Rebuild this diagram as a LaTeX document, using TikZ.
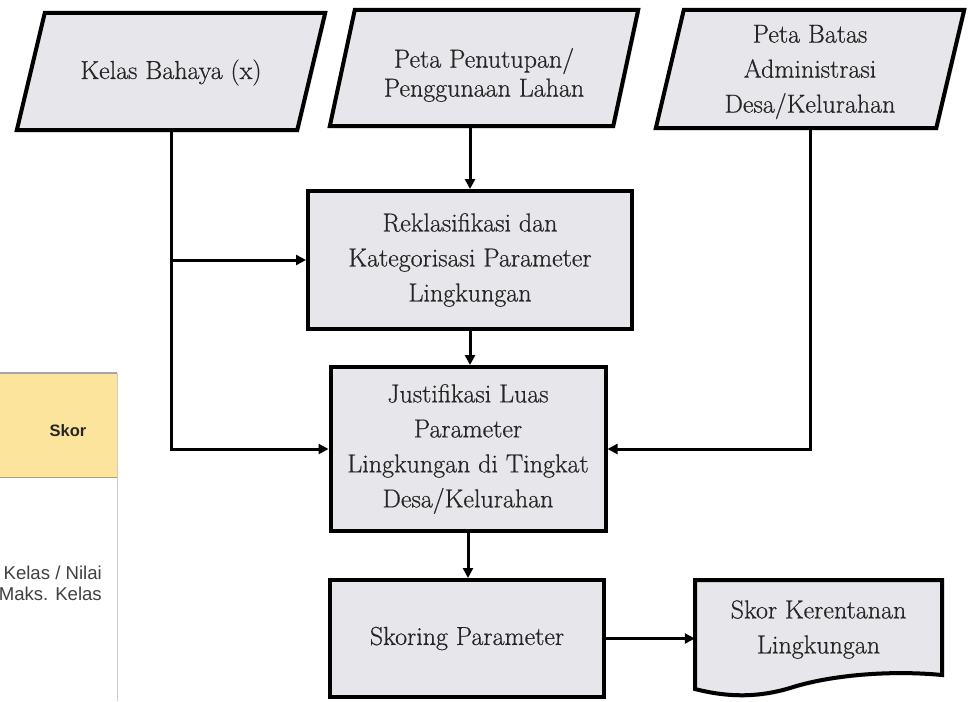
\documentclass[tikz,border=0pt]{standalone}
\usepackage{fontspec}
\newfontfamily\arialf{Liberation Sans}
\newfontfamily\boxf{Latin Modern Roman}[RawFeature={embolden=0.6}]
\usetikzlibrary{arrows.meta,calc,shadows}
\definecolor{boxfill}{HTML}{E7E7EB}
\definecolor{txt}{HTML}{262626}
\definecolor{hdr}{HTML}{FDE49C}
\begin{document}
\begin{tikzpicture}[x=1pt,y=-1pt,
  lbl/.style={inner sep=0pt, align=center, text=txt, font=\boxf\fontsize{26}{35}\selectfont},
  boxnode/.style={lbl, draw=black, line width=4pt, fill=boxfill,
     drop shadow={shadow xshift=2pt, shadow yshift=-2pt, opacity=0.3, fill=gray}},
  shapeline/.style={draw=black, line width=4pt, fill=boxfill, line join=miter,
     drop shadow={shadow xshift=2pt, shadow yshift=-2pt, opacity=0.3, fill=gray}},
  conn/.style={line width=3pt, -{Triangle[length=10pt,width=10pt]}},
  plain/.style={line width=3pt}]
\useasboundingbox (0,0) rectangle (968,701);

% partial table at left
\fill[hdr] (0,373) rectangle (117,477);
\draw[line width=1.5pt, draw=gray!70] (0,373) -- (117,373);
\draw[line width=1pt, draw=hdr!70!black] (0,477) -- (117,477);
\draw[line width=1pt, draw=gray!40] (117,373) -- (117,701);
\node[inner sep=0pt, font=\arialf\bfseries\fontsize{16.5}{19}\selectfont, text=black!85] (skorh) at (68,431) {Skor};
\node[inner sep=0pt, anchor=east, align=right, text=black!75, font=\arialf\fontsize{18.6}{21}\selectfont] (skorb) at (102,583) {Kelas / Nilai\\Maks. Kelas};

% parallelogram input nodes
\node[lbl, minimum width=280pt, minimum height=117pt] (kb) at (171,71.5) {};
\path[shapeline] ($(kb.south west)+(-14,0)$) -- ($(kb.south east)+(-14,0)$) -- ($(kb.north east)+(14,0)$) -- ($(kb.north west)+(14,0)$) -- cycle;
\node[lbl] at ($(kb.center)+(0,1)$) {Kelas Bahaya (x)};

\node[lbl, minimum width=283pt, minimum height=116pt] (pp) at (484,68) {};
\path[shapeline] ($(pp.south west)+(-12.5,0)$) -- ($(pp.south east)+(-12.5,0)$) -- ($(pp.north east)+(12.5,0)$) -- ($(pp.north west)+(12.5,0)$) -- cycle;
\node[lbl, font=\boxf\fontsize{26}{29}\selectfont] at ($(pp.center)+(0,7)$) {Peta Penutupan/\\Penggunaan Lahan};

\node[lbl, minimum width=280pt, minimum height=118pt] (pb) at (810,69) {};
\path[shapeline] ($(pb.south west)+(-14,0)$) -- ($(pb.south east)+(-14,0)$) -- ($(pb.north east)+(14,0)$) -- ($(pb.north west)+(14,0)$) -- cycle;
\node[lbl] at ($(pb.center)+(0,3)$) {Peta Batas\\Administrasi\\Desa/Kelurahan};

% process boxes
\node[boxnode, minimum width=324pt, minimum height=138pt] (re) at (470,260) {Reklasifikasi dan\\Kategorisasi Parameter\\Lingkungan};
\node[boxnode, minimum width=275pt, minimum height=164pt] (ju) at (468,449) {Justifikasi Luas\\Parameter\\Lingkungan di Tingkat\\Desa/Kelurahan};
\node[boxnode, minimum width=274pt, minimum height=117pt] (sk) at (467,638.5) {Skoring Parameter};

% document output
\node[lbl, minimum width=247pt, minimum height=95pt] (doc) at (818.5,627.5) {};
\path[shapeline] (695,580) -- (942,580) -- (942,675)
   .. controls (890,670) and (830,675) .. (790,688)
   .. controls (760,697) and (730,698) .. (695,689) -- cycle;
\node[lbl] at ($(doc.center)+(0,2)$) {Skor Kerentanan\\Lingkungan};

% connectors
\draw[conn] (re.north |- pp.south) -- (re.north);
\draw[conn] (kb.south) |- (ju.west);
\draw[conn] (kb.south |- re.west) -- (re.west);
\draw[conn] (pb.south) |- (ju.east);
\draw[conn] (re.south) -- (ju.north -| re.south);
\draw[conn] (ju.south) -- (sk.north -| ju.south);
\draw[conn] (sk.east) -- (sk.east -| doc.west);
\end{tikzpicture}
\end{document}
